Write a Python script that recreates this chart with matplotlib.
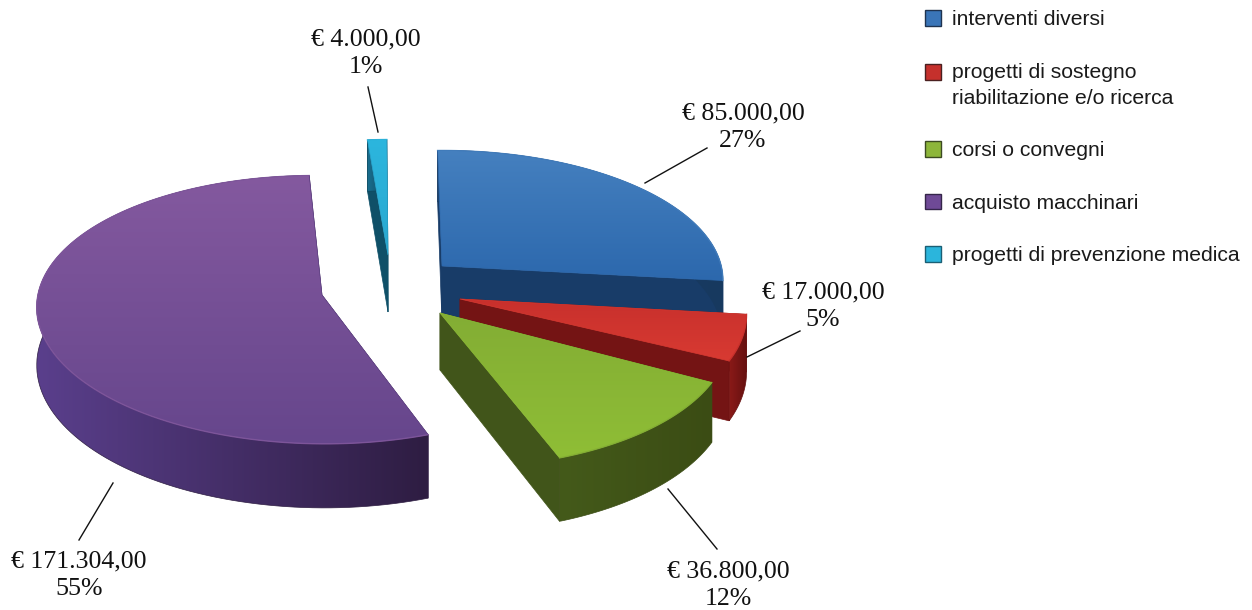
import numpy as np
import matplotlib
matplotlib.use("Agg")
import matplotlib.pyplot as plt
from matplotlib.colors import LinearSegmentedColormap
from matplotlib.patches import Polygon, Rectangle, Patch
from matplotlib.legend_handler import HandlerPatch

# ---- data ----
categories = ["interventi diversi", "progetti di sostegno\nriabilitazione e/o ricerca",
              "corsi o convegni", "acquisto macchinari", "progetti di prevenzione medica"]
values = [85000.0, 17000.0, 36800.0, 171304.0, 4000.0]
amount_labels = ["€ 85.000,00", "€ 17.000,00", "€ 36.800,00", "€ 171.304,00", "€ 4.000,00"]
percent_labels = ["27%", "5%", "12%", "55%", "1%"]

# ---- styles and layout (figure pixels) ----
W, H = 1252, 610
START_DEG = 91.0
RX, RY, PERSP, DEPTH = 282.0, 135.0, 0.11, 57.0
apexes = [(442, 266), (460, 299), (440, 313), (322, 295), (388, 255)]
scale_x = [0.99, 1.01, 1.02, 1.0, 0.95]
scale_y = [0.95, 1.0, 1.02, 0.98, 0.95]
skew_x = [0, 0, 0, 12, 3]     # view distortion of each exploded slice
skew_y = [0, 0, -7, -8, 0]
top_colors = [("#4580bf", "#2c68ad"), ("#c8302c", "#d83a32"), ("#83ad34", "#8fbe36"),
              ("#84599f", "#66468c"), ("#2cb6de", "#2aa8d0")]
side_colors = [("#1c4472", "#17395f"), ("#8a1a18", "#661010"), ("#445a1a", "#3b4c14"),
               ("#5a3f8c", "#2e1d42"), ("#1a6f90", "#0e4a60")]
radial_colors = ["#183c68", "#741414", "#41551a", "#33204a", "#0f5068"]
legend_colors = ["#3a75b8", "#c5302c", "#8db63a", "#6f4a96", "#2bb5dc"]
legend_edges = ["#1f3350", "#4a2020", "#3c4a22", "#35264a", "#1a5f75"]
label_centers = [(743, 127), (823, 306), (728, 585), (79, 575), (366, 53)]
leaders = [((645, 183), (707, 148)), ((747, 357), (800, 331)), ((668, 489), (717, 549)),
           ((113, 483), (79, 540)), ((368, 87), (378, 132))]

serif = "Liberation Serif"
sans = "Liberation Sans"

fig = plt.figure(figsize=(W / 100, H / 100), dpi=100)
ax = fig.add_axes([0, 0, 1, 1])
ax.set_xlim(0, W)
ax.set_ylim(H, 0)
ax.axis("off")


def project(deg, i):
    a = np.radians(deg)
    u, v = np.cos(a), np.sin(a)
    w = 1 + PERSP * v
    x = apexes[i][0] + RX * scale_x[i] * u / w + skew_x[i] * v
    y = apexes[i][1] - RY * scale_y[i] * v / w - skew_y[i] * u
    return x, y, DEPTH / w


def grad_fill(verts, colors, horizontal, z):
    verts = np.asarray(verts)
    x0, y0 = verts.min(axis=0)
    x1, y1 = verts.max(axis=0)
    cmap = LinearSegmentedColormap.from_list("g", colors)
    g = np.linspace(0, 1, 256)
    arr = g[None, :] if horizontal else g[:, None]
    poly = Polygon(verts, closed=True, facecolor="none", edgecolor="none", zorder=z)
    ax.add_patch(poly)
    im = ax.imshow(arr, cmap=cmap, extent=(x0, x1, y1, y0), origin="upper",
                   aspect="auto", zorder=z, interpolation="bilinear")
    im.set_clip_path(poly)
    poly2 = Polygon(verts, closed=True, facecolor="none", edgecolor=colors[-1],
                    linewidth=0.5, zorder=z + 0.01)
    ax.add_patch(poly2)


fractions = np.array(values) / np.sum(values)
edges = START_DEG - 360 * np.concatenate([[0], np.cumsum(fractions)])
draw_order = [0, 4, 3, 1, 2]

for n, i in enumerate(draw_order):
    th = np.linspace(edges[i], edges[i + 1], 120)
    ax_, ay_ = apexes[i]
    px, py, pd = project(th, i)
    base = 10 + n * 2
    for end in (0, -1):
        quad = [(ax_, ay_), (px[end], py[end]), (px[end], py[end] + pd[end]), (ax_, ay_ + DEPTH)]
        ax.add_patch(Polygon(quad, closed=True, facecolor=radial_colors[i],
                             edgecolor=radial_colors[i], linewidth=0.5, zorder=base))
    outer = np.vstack([np.column_stack([px, py]),
                       np.column_stack([px[::-1], (py + pd)[::-1]])])
    grad_fill(outer, side_colors[i], True, base + 0.2)
    top = np.vstack([[(ax_, ay_)], np.column_stack([px, py])])
    grad_fill(top, top_colors[i], False, base + 0.5)
    ax.plot(px, py, color=top_colors[i][0], lw=1.0, alpha=0.8, zorder=base + 0.6)

for c, a, p, (p0, p1) in zip(label_centers, amount_labels, percent_labels, leaders):
    ax.text(c[0], c[1], a + "\n" + p, ha="center", va="center", family=serif,
            fontsize=18.6, linespacing=1.31, color="#111111", zorder=40)
    ax.plot([p0[0], p1[0]], [p0[1], p1[1]], color="#111111", lw=1.0, zorder=40)


def square(legend, orig_handle, xdescent, ydescent, width, height, fontsize):
    return Rectangle((-xdescent, -ydescent), width, height)


def square_up(legend, orig_handle, xdescent, ydescent, width, height, fontsize):
    return Rectangle((-xdescent, -ydescent + 9.4), width, height)


handles = [Patch(facecolor=f, edgecolor=e, linewidth=1.0) for f, e in zip(legend_colors, legend_edges)]
hmap = {h: HandlerPatch(patch_func=square) for h in handles}
hmap[handles[1]] = HandlerPatch(patch_func=square_up)
fs = 15.2
px_per_em = fs * 100 / 72
leg = ax.legend(handles, categories, handler_map=hmap, loc="upper left",
                bbox_to_anchor=(925, 10), bbox_transform=ax.transData, frameon=False,
                borderpad=0, borderaxespad=0, prop={"family": sans, "size": fs},
                handlelength=16 / px_per_em, handleheight=16 / px_per_em,
                handletextpad=11 / px_per_em, labelspacing=33.5 / px_per_em)
leg.set_zorder(50)
for t in leg.get_texts():
    t.set_color("#1a1a1a")
    t.set_linespacing(1.46)

fig.savefig("out.png", dpi=100, facecolor="white")
